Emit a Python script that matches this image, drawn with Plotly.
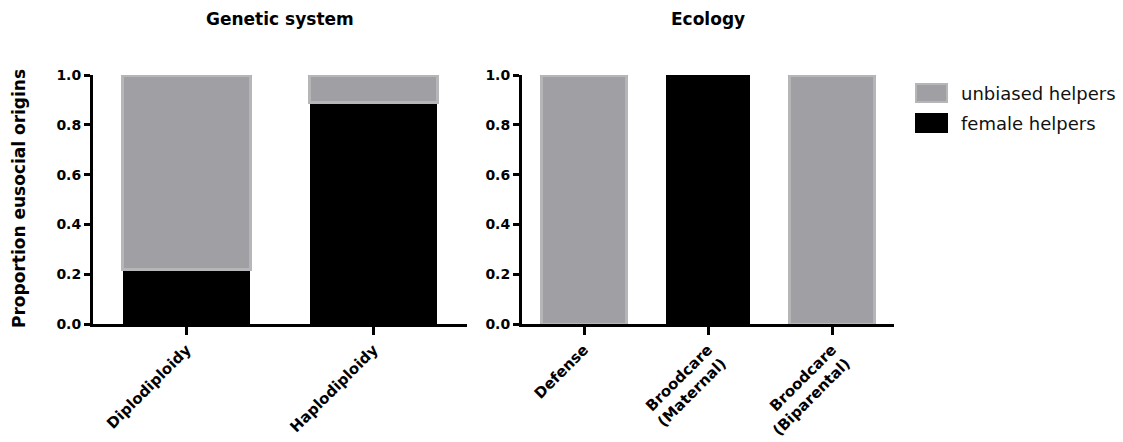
import plotly.graph_objects as go

# ---- data ----
genetic_cats = ["Diplodiploidy", "Haplodiploidy"]
genetic_female = [0.22, 0.89]
genetic_unbiased = [0.78, 0.11]

ecology_cats = ["Defense", "Broodcare<br>(Maternal)", "Broodcare<br>(Biparental)"]
ecology_female = [None, 1.0, None]
ecology_unbiased = [1.0, None, 1.0]

panel_titles = ["Genetic system", "Ecology"]
y_title = "Proportion eusocial origins"
legend_labels = ["unbiased helpers", "female helpers"]
y_ticks = [0.0, 0.2, 0.4, 0.6, 0.8, 1.0]

# ---- style ----
W, H = 1123, 442
GRAY = "#a0a0a4"
GRAY_EDGE = "#b6b6b9"
BLACK = "#000000"
FONT = "DejaVu Sans"

def px_x(p):
    return p / W

def px_y(p):
    return 1 - p / H

fig = go.Figure()

fig.add_trace(go.Bar(x=genetic_cats, y=genetic_female, width=0.68,
                     marker=dict(color=BLACK, line=dict(width=0)),
                     xaxis="x", yaxis="y", showlegend=False))
fig.add_trace(go.Bar(x=genetic_cats, y=genetic_unbiased, width=0.68,
                     marker=dict(color=GRAY, line=dict(color=GRAY_EDGE, width=3)),
                     xaxis="x", yaxis="y", showlegend=False))
fig.add_trace(go.Bar(x=ecology_cats, y=ecology_female, width=0.68,
                     marker=dict(color=BLACK, line=dict(width=0)),
                     xaxis="x2", yaxis="y2", showlegend=False))
fig.add_trace(go.Bar(x=ecology_cats, y=ecology_unbiased, width=0.68,
                     marker=dict(color=GRAY, line=dict(color=GRAY_EDGE, width=3)),
                     xaxis="x2", yaxis="y2", showlegend=False))

ydom = [px_y(324), px_y(75)]

xcommon = dict(showline=True, linewidth=3, linecolor="black", ticks="outside",
               ticklen=8, tickwidth=3, tickcolor="black", showgrid=False,
               zeroline=False, tickangle=-45, automargin=False,
               tickfont=dict(family=FONT, size=15, color="black", weight="bold"))
ycommon = dict(showline=True, linewidth=3, linecolor="black", ticks="outside",
               ticklen=6, tickwidth=3, tickcolor="black", showgrid=False,
               zeroline=False, range=[0, 1], tickvals=y_ticks, tickformat=".1f",
               automargin=False, domain=ydom,
               tickfont=dict(family=FONT, size=14, color="black", weight="bold"))

fig.update_layout(
    width=W, height=H,
    margin=dict(l=0, r=0, t=0, b=0),
    paper_bgcolor="white", plot_bgcolor="white",
    barmode="stack", showlegend=False,
    xaxis=dict(xcommon, domain=[px_x(93), px_x(467)], range=[-0.5, 1.5], anchor="y"),
    yaxis=dict(ycommon, anchor="x"),
    xaxis2=dict(xcommon, domain=[px_x(522), px_x(894)], range=[-0.5, 2.5], anchor="y2"),
    yaxis2=dict(ycommon, anchor="x2"),
)

annotations = []
for title, cx in zip(panel_titles, [280, 708]):
    annotations.append(dict(text=title, x=px_x(cx), y=px_y(19), xref="paper", yref="paper",
                            xanchor="center", yanchor="middle", showarrow=False,
                            font=dict(family=FONT, size=17, color="black", weight="bold")))
annotations.append(dict(text=y_title, x=px_x(19), y=px_y(199), xref="paper", yref="paper",
                        xanchor="center", yanchor="middle", showarrow=False, textangle=-90,
                        font=dict(family=FONT, size=17, color="black", weight="bold")))

# custom legend
shapes = []
legend_colors = [(GRAY, GRAY_EDGE), (BLACK, BLACK)]
for i, (lab, (fc, lc)) in enumerate(zip(legend_labels, legend_colors)):
    top = 83 + 30 * i
    shapes.append(dict(type="rect", xref="paper", yref="paper",
                       x0=px_x(916), x1=px_x(947), y0=px_y(top + 19), y1=px_y(top + 1),
                       fillcolor=fc, line=dict(color=lc, width=2)))
    annotations.append(dict(text=lab, x=px_x(959), y=px_y(top + 10), xref="paper", yref="paper",
                            xanchor="left", yanchor="middle", showarrow=False,
                            font=dict(family=FONT, size=18, color="#111111")))

fig.update_layout(annotations=annotations, shapes=shapes)

fig.write_html("out.html",
               config={"displayModeBar": False},
               post_script="document.body.style.margin='0';document.body.style.overflow='hidden';")
